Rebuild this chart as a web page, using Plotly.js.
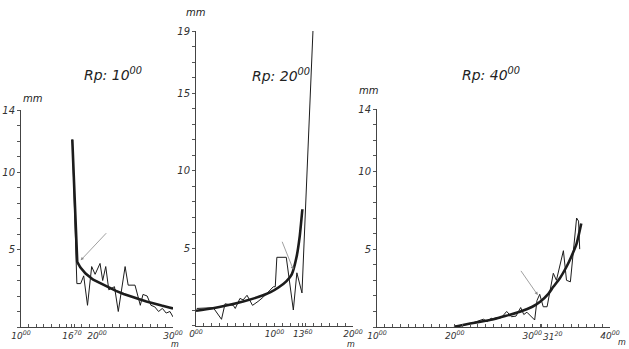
<!DOCTYPE html>
<html><head><meta charset="utf-8">
<script src="https://cdn.plot.ly/plotly-3.0.1.min.js"></script>
<style>html,body{margin:0;padding:0;background:#fff}#c{width:629px;height:349px}</style>
</head><body><div id="c"></div>
<script>
// ---- Panel 1 : Rp 10+00 ----
const p1MeasX = [16.75, 17.35, 17.85, 18.25, 18.75, 19.3, 19.75, 20.4, 20.75, 21.15, 21.55, 22.3, 22.8, 23.7, 24.1, 25.0, 25.7, 26.05, 26.6, 27.1, 27.6, 28.1, 28.6, 29.1, 29.6, 30.0];
const p1MeasY = [12.1, 2.8, 2.8, 3.3, 1.4, 3.9, 3.4, 4.1, 3.0, 3.9, 2.4, 2.6, 1.0, 3.9, 2.7, 2.7, 1.4, 2.1, 2.0, 1.4, 1.3, 1.0, 1.2, 0.9, 1.0, 0.65];
const p1FitX = [16.75, 17.4, 17.8, 18.5, 19.5, 20.5, 21.5, 22.5, 23.5, 24.5, 25.5, 26.5, 27.5, 28.5, 29.5, 30.0];
const p1FitY = [12.1, 4.2, 3.85, 3.45, 3.05, 2.8, 2.55, 2.33, 2.13, 1.95, 1.8, 1.65, 1.5, 1.38, 1.26, 1.2];
const p1Arrow = {tail: [21.4, 6.15], head: [17.85, 4.3]};
const p1TickVals = [10, 16.7, 20, 30];
const p1TickText = ["10<sup>00</sup>", "16<sup>70</sup>", "20<sup>00</sup>", "30<sup>00</sup>"];
const p1YTicks = [5, 10, 14];

// ---- Panel 2 : Rp 20+00 ----
const p2MeasX = [0.1, 2.2, 3.25, 3.7, 4.75, 5.0, 5.6, 6.0, 6.5, 7.2, 7.9, 8.5, 9.85, 10.1, 10.3, 11.5, 12.4, 12.85, 13.5, 14.9];
const p2MeasY = [1.1, 1.15, 0.4, 1.4, 1.3, 1.1, 1.75, 1.65, 1.95, 1.3, 1.55, 1.8, 2.5, 2.5, 4.4, 4.4, 1.0, 3.4, 2.1, 19.0];
const p2FitX = [0, 2, 4, 6, 8, 9.5, 10.5, 11.5, 12.2, 12.8, 13.2, 13.55];
const p2FitY = [0.95, 1.1, 1.3, 1.55, 1.85, 2.15, 2.45, 2.85, 3.3, 4.4, 5.7, 7.5];
const p2Arrow = {tail: [10.9, 5.5], head: [12.4, 3.6]};
const p2TickVals = [0, 10, 13.6, 20];
const p2TickText = ["0<sup>00</sup>", "10<sup>00</sup>", "13<sup>60</sup>", "20<sup>00</sup>"];
const p2YTicks = [5, 10, 15, 19];

// ---- Panel 3 : Rp 40+00 ----
const p3MeasX = [19.9, 21.5, 22.4, 23.3, 23.7, 24.2, 24.7, 25.1, 26.0, 26.7, 27.3, 27.9, 28.5, 28.9, 29.3, 30.3, 30.6, 30.95, 31.4, 31.9, 32.7, 33.1, 34.0, 34.4, 34.9, 35.7, 35.95, 36.1];
const p3MeasY = [0.05, 0.15, 0.28, 0.4, 0.5, 0.35, 0.56, 0.5, 0.6, 1.0, 0.66, 0.7, 1.25, 0.8, 0.95, 0.45, 1.7, 2.1, 1.3, 1.3, 3.45, 3.0, 4.9, 3.0, 2.9, 7.0, 6.8, 5.0];
const p3FitX = [20, 22, 24, 25, 26.5, 28.4, 30, 31, 32, 32.7, 33.5, 34.4, 35.0, 35.7, 36.3];
const p3FitY = [0.02, 0.22, 0.4, 0.5, 0.7, 0.98, 1.3, 1.62, 2.1, 2.58, 3.1, 3.87, 4.5, 5.36, 6.65];
const p3Arrow = {tail: [28.4, 3.7], head: [30.7, 2.05]};
const p3TickVals = [10, 20, 30, 31.2, 40];
const p3TickText = ["10<sup>00</sup>", "20<sup>00</sup>", "30<sup>00</sup>", "31<sup>20</sup>", "40<sup>00</sup>"];
const p3YTicks = [5, 10, 14];

const titles = ["Rp: 10<sup>00</sup>", "Rp: 20<sup>00</sup>", "Rp: 40<sup>00</sup>"];

// ---------------------------------------------
const W = 629, H = 349;
const ink = "#1c1c1c";
const tickFont = {family: "DejaVu Sans", size: 9, color: "#333", style: "italic"};
const px = (a, b) => [a / W, b / W];
const py = (bottom, top) => [1 - bottom / H, 1 - top / H];
const extraAnn = [];

function thin(x, y, xa, ya) {
  return {x, y, xaxis: xa, yaxis: ya, mode: "lines", line: {color: ink, width: 1}, hoverinfo: "skip"};
}
function thick(x, y, xa, ya, shape) {
  return {x, y, xaxis: xa, yaxis: ya, mode: "lines", line: {color: ink, width: 2.6, shape: shape || "linear", smoothing: 0.6}, hoverinfo: "skip"};
}
// every integer gets a tick mark; only the listed values get text.
// a label whose tick sits within 1.5 units of the previous one is written beside its tick.
function tickSet(range, vals, text, axName, yName) {
  const tv = [], tt = [];
  const crowded = vals.map((v, i) => i > 0 && v - vals[i - 1] < 1.5);
  for (let v = Math.ceil(range[0]); v <= range[1]; v++) {
    const i = vals.indexOf(v);
    tv.push(v); tt.push(i >= 0 ? text[i] : "");
  }
  vals.forEach((v, i) => {
    if (Number.isInteger(v)) return;
    tv.push(v);
    if (crowded[i] && axName) {
      tt.push("");
      extraAnn.push({text: text[i], x: v, y: 0, xref: axName, yref: yName, showarrow: false, xanchor: "left",
        yanchor: "top", xshift: -1, yshift: -1, font: tickFont});
    } else tt.push(text[i]);
  });
  return {tv, tt};
}
function xax(domain, range, vals, text, anchor, name) {
  const t = tickSet(range, vals, text, name, anchor);
  return {domain, range, anchor, showgrid: false, zeroline: false, showline: true, linecolor: "#444", linewidth: 1,
    tickmode: "array", tickvals: t.tv, ticktext: t.tt, ticks: "inside", ticklen: 3, tickcolor: "#555",
    tickangle: 0, tickfont: tickFont, fixedrange: true};
}
function yax(domain, range, vals, anchor) {
  const t = tickSet(range, vals, vals.map(String));
  return {domain, range, anchor, showgrid: false, zeroline: false, showline: true, linecolor: "#444", linewidth: 1,
    tickmode: "array", tickvals: t.tv, ticktext: t.tt, ticks: "outside", ticklen: 3, tickcolor: "#555",
    tickangle: 0, tickfont: Object.assign({}, tickFont, {size: 10}), fixedrange: true};
}

const data = [
  thin(p1MeasX, p1MeasY, "x", "y"),
  thick(p1FitX, p1FitY, "x", "y"),
  thin(p2MeasX, p2MeasY, "x2", "y2"),
  thick(p2FitX, p2FitY, "x2", "y2", "spline"),
  thin(p3MeasX, p3MeasY, "x3", "y3"),
  thick(p3FitX, p3FitY, "x3", "y3", "spline")
];

function arrow(a, xr, yr) {
  return {x: a.head[0], y: a.head[1], ax: a.tail[0], ay: a.tail[1], xref: xr, yref: yr, axref: xr, ayref: yr,
    text: "", showarrow: true, arrowhead: 2, arrowsize: 0.8, arrowwidth: 0.8, arrowcolor: "#888"};
}
function label(text, x, y, size) {
  return {text, x: x / W, y: 1 - y / H, xref: "paper", yref: "paper", showarrow: false,
    font: {family: "DejaVu Sans", size: size, color: "#222", style: "italic"}, xanchor: "center", yanchor: "middle"};
}

const layout = {
  width: W, height: H, margin: {l: 0, r: 0, t: 0, b: 0},
  paper_bgcolor: "#fff", plot_bgcolor: "rgba(0,0,0,0)", showlegend: false,
  xaxis: xax(px(21, 173), [10, 30], p1TickVals, p1TickText, "y", "x"),
  yaxis: yax(py(327, 110), [0, 14], p1YTicks, "x"),
  xaxis2: xax(px(196, 353), [0, 20], p2TickVals, p2TickText, "y2", "x2"),
  yaxis2: yax(py(325.5, 31), [0, 19], p2YTicks, "x2"),
  xaxis3: xax(px(377, 610), [10, 40], p3TickVals, p3TickText, "y3", "x3"),
  yaxis3: yax(py(327, 109), [0, 14], p3YTicks, "x3")
};
layout.annotations = [
  arrow(p1Arrow, "x", "y"), arrow(p2Arrow, "x2", "y2"), arrow(p3Arrow, "x3", "y3"),
  label(titles[0], 113, 74, 14), label(titles[1], 281, 75, 14), label(titles[2], 491, 74, 14),
  label("mm", 33, 98, 10), label("mm", 196, 12, 10), label("mm", 369, 91, 10),
  label("m", 175, 344.5, 8), label("m", 351, 344, 8), label("m", 622, 342, 8)
].concat(extraAnn);

Plotly.newPlot("c", data, layout, {staticPlot: true, displayModeBar: false});
</script></body></html>
